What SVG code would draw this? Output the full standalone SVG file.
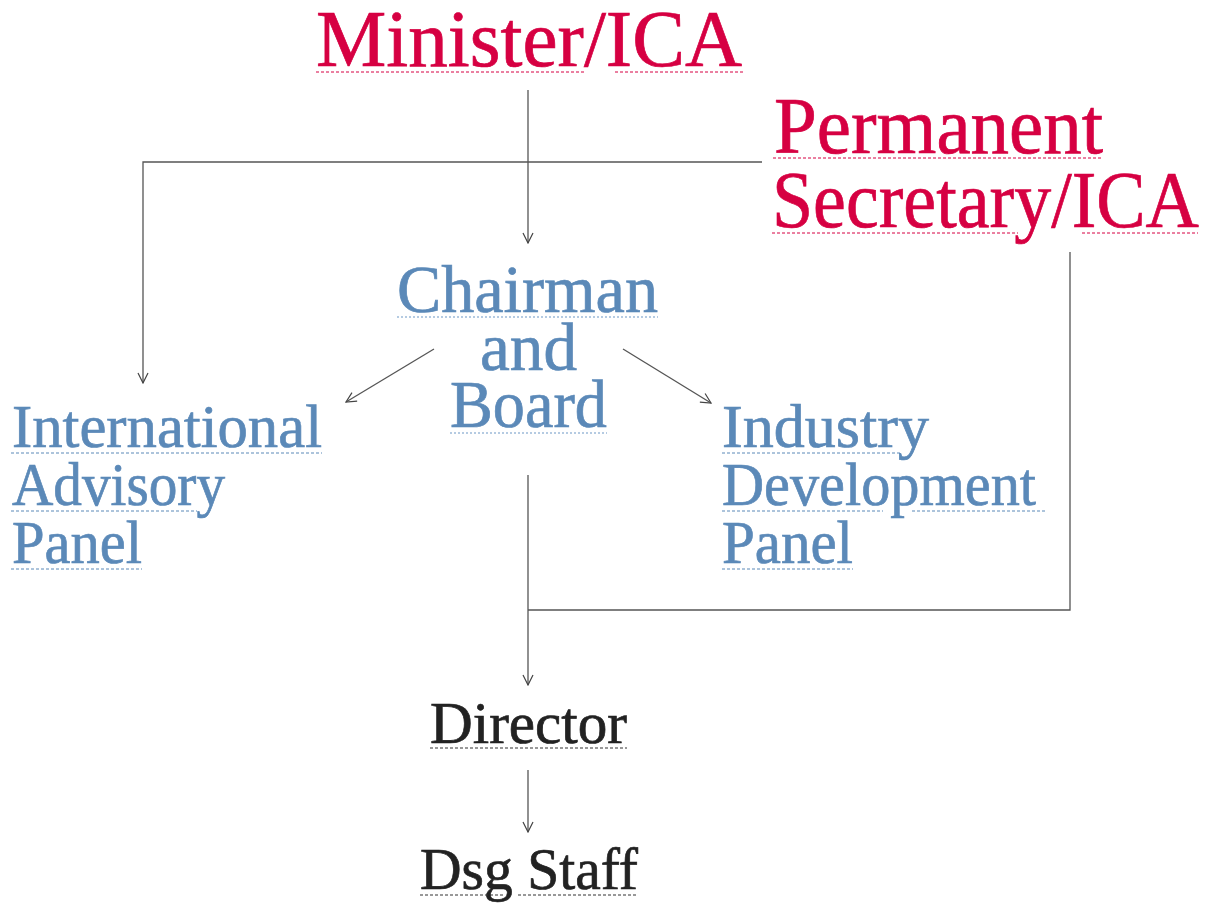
<svg xmlns="http://www.w3.org/2000/svg" width="1220" height="905" viewBox="0 0 1220 905">
<defs>
<marker id="arr" viewBox="0 0 12 12" refX="11" refY="6" markerWidth="12" markerHeight="12" markerUnits="userSpaceOnUse" orient="auto">
<path d="M1,1 L11,6 L1,11" fill="none" stroke="#444" stroke-width="1.2"/>
</marker>
<style>
text{font-family:"Liberation Serif","Times New Roman",serif;stroke-width:0.7;lengthAdjust:spacingAndGlyphs}
.red{fill:#d60042;stroke:#d60042;font-size:80px}
.blue{fill:#5b89b8;stroke:#5b89b8;font-size:61px}
.blueL{fill:#5b89b8;stroke:#5b89b8;font-size:68px}
.dark{fill:#222;stroke:#222;font-size:60px}
.ur{stroke:#d60042;stroke-width:1;stroke-dasharray:3 2;fill:none}
.ub{stroke:#5b89b8;stroke-width:1;stroke-dasharray:3 2;fill:none}
.ubl{stroke:#9dbbd9;stroke-width:1.5;stroke-dasharray:2 2;fill:none}
.ud{stroke:#333;stroke-width:1;stroke-dasharray:3 2;fill:none}
.c{stroke:#555;stroke-width:1.3;fill:none}
</style>
</defs>
<rect width="1220" height="905" fill="#fff"/>
<g id="connectors">
<path class="c" d="M528,90 V243" marker-end="url(#arr)"/>
<path class="c" d="M762,162 H143 V383" marker-end="url(#arr)"/>
<path class="c" d="M1070,252 V610 H528"/>
<path class="c" d="M528,475 V685" marker-end="url(#arr)"/>
<path class="c" d="M528,770 V832" marker-end="url(#arr)"/>
<path class="c" d="M434,349 L346,402" marker-end="url(#arr)"/>
<path class="c" d="M623,349 L711,403" marker-end="url(#arr)"/>
</g>
<g id="minister">
<text class="red" x="316" y="66" textLength="426" lengthAdjust="spacingAndGlyphs">Minister/ICA</text>
<path class="ur" d="M316,72 H586 M615,72 H743"/>
</g>
<g id="permsec">
<text class="red" x="774" y="153" textLength="329" lengthAdjust="spacingAndGlyphs">Permanent</text>
<path class="ur" d="M773,158 H1102"/>
<text class="red" x="772" y="227" textLength="427" lengthAdjust="spacingAndGlyphs">Secretary/ICA</text>
<path class="ur" d="M772,233 H1018 M1082,233 H1198"/>
</g>
<g id="chairman">
<text class="blueL" x="397" y="312" textLength="261" lengthAdjust="spacingAndGlyphs">Chairman</text>
<path class="ubl" d="M397,317 H658"/>
<text class="blueL" x="480" y="370" textLength="97" lengthAdjust="spacingAndGlyphs">and</text>
<text class="blueL" x="450" y="427" textLength="157" lengthAdjust="spacingAndGlyphs">Board</text>
<path class="ubl" d="M450,433 H607"/>
</g>
<g id="iap">
<text class="blue" x="12" y="447" textLength="310" lengthAdjust="spacingAndGlyphs">International</text>
<path class="ub" d="M11,453 H322"/>
<text class="blue" x="12" y="505" textLength="213" lengthAdjust="spacingAndGlyphs">Advisory</text>
<path class="ub" d="M11,511 H197"/>
<text class="blue" x="12" y="563" textLength="130" lengthAdjust="spacingAndGlyphs">Panel</text>
<path class="ub" d="M11,569 H142"/>
</g>
<g id="idp">
<text class="blue" x="722" y="447" textLength="207" lengthAdjust="spacingAndGlyphs">Industry</text>
<path class="ub" d="M722,453 H900"/>
<text class="blue" x="722" y="505" textLength="314" lengthAdjust="spacingAndGlyphs">Development</text>
<path class="ub" d="M722,511 H883 M912,511 H1045"/>
<text class="blue" x="722" y="563" textLength="131" lengthAdjust="spacingAndGlyphs">Panel</text>
<path class="ub" d="M722,569 H853"/>
</g>
<g id="director">
<text class="dark" x="430" y="743" textLength="197" lengthAdjust="spacingAndGlyphs">Director</text>
<path class="ud" d="M430,748 H627"/>
</g>
<g id="dsg">
<text class="dark" x="420" y="889" textLength="218" lengthAdjust="spacingAndGlyphs">Dsg Staff</text>
<path class="ud" d="M420,895 H504 M518,895 H638"/>
</g>
</svg>
